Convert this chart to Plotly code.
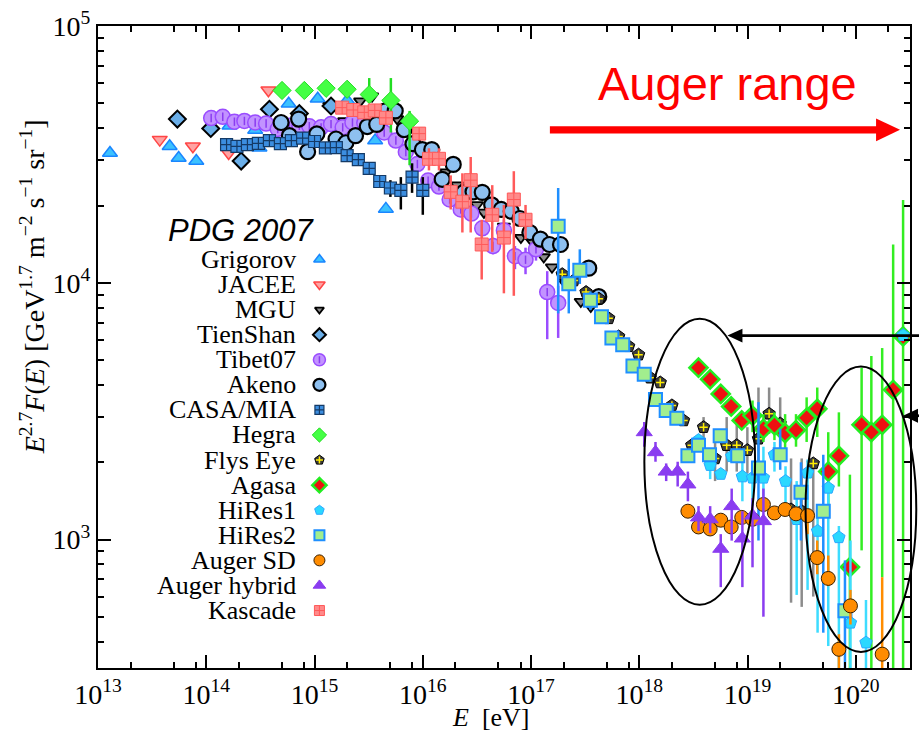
import plotly.graph_objects as go

# ---------------- data (E in eV, flux E^2.7 F(E)) ----------------
grigorov_E = [1.29e13, 4.59e13, 5.56e13, 8.09e13, 1.64e14, 2.83e14, 3.10e14, 5.77e14, 1.07e15, 2.00e15, 3.63e15, 4.56e15]
grigorov_F = [3.20e4, 3.40e4, 3.06e4, 2.98e4, 4.09e4, 3.94e4, 3.36e4, 4.98e4, 5.21e4, 5.13e4, 3.58e4, 1.94e4]

jacee_E = [3.72e13, 7.52e13, 1.61e14, 3.75e14]
jacee_F = [3.61e4, 3.40e4, 3.20e4, 5.62e4]

mgu_E = [1.37e15, 1.88e15, 2.64e15, 3.40e15, 5.79e15, 1.19e16, 1.64e16, 2.07e16, 3.16e16, 3.67e16,
         5.61e16, 8.05e16, 1.02e17, 1.31e17, 1.56e17, 2.09e17, 2.88e17, 3.56e17]
mgu_F = [4.88e4, 4.27e4, 5.10e4, 5.33e4, 4.35e4, 2.51e4, 2.70e4, 2.40e4, 2.01e4, 1.88e4,
         1.66e4, 1.50e4, 1.45e4, 1.26e4, 1.15e4, 9.92e3, 8.45e3, 8.08e3]

tienshan_E = [5.41e13, 1.10e14, 2.10e14, 3.83e14, 7.24e14, 1.42e15]
tienshan_F = [4.34e4, 3.99e4, 2.98e4, 4.74e4, 4.56e4, 4.88e4]

tibet_E = [1.11e14, 1.42e14, 1.82e14, 2.25e14, 2.83e14, 3.57e14, 4.57e14, 5.86e14, 7.24e14, 8.95e14,
           1.15e15, 1.42e15, 1.82e15, 2.24e15, 2.88e15, 4.40e15, 5.64e15, 6.97e15, 8.91e15, 1.12e16,
           1.41e16, 1.77e16, 2.24e16, 2.81e16, 3.54e16, 4.45e16, 5.61e16, 7.10e16, 8.89e16, 1.11e17,
           1.41e17, 1.78e17]
tibet_F = [4.38e4, 4.43e4, 4.24e4, 4.27e4, 4.21e4, 4.17e4, 3.97e4, 4.09e4, 4.09e4, 4.07e4,
           4.03e4, 4.15e4, 4.03e4, 4.21e4, 4.19e4, 3.85e4, 3.58e4, 3.23e4, 2.90e4, 2.50e4,
           2.37e4, 2.11e4, 1.93e4, 1.86e4, 1.63e4, 1.39e4, 1.60e4, 1.27e4, 1.23e4, 1.35e4,
           9.2e3, 8.35e3]
tibet_up = [0] * 25 + [1.1e3, 1.6e3, 1.2e3, 1.4e3, 1.0e3, 1.9e3, 1.38e3]
tibet_dn = [0] * 25 + [1.0e3, 1.9e3, 1.4e3, 1.5e3, 1.3e3, 3.17e3, 2.25e3]

akeno_E = [4.91e14, 5.86e14, 7.13e14, 8.63e14, 1.05e15, 1.58e15, 1.95e15, 2.39e15, 3.07e15, 3.75e15,
           4.50e15, 5.56e15, 6.73e15, 8.11e15, 9.91e15, 1.21e16, 1.51e16, 1.91e16, 2.39e16, 2.91e16,
           3.54e16, 4.33e16, 5.30e16, 6.56e16, 7.89e16, 9.75e16, 1.22e17, 1.48e17, 1.87e17, 3.41e17,
           4.22e17]
akeno_F = [4.21e4, 3.74e4, 4.34e4, 3.24e4, 3.80e4, 3.63e4, 3.51e4, 3.74e4, 4.06e4, 4.14e4,
           4.67e4, 4.67e4, 3.95e4, 3.48e4, 3.30e4, 3.30e4, 2.53e4, 2.89e4, 2.25e4, 2.26e4,
           2.25e4, 2.01e4, 1.93e4, 1.90e4, 1.78e4, 1.57e4, 1.48e4, 1.41e4, 1.41e4, 1.14e4,
           8.83e3]

casa_E = [1.54e14, 1.92e14, 2.40e14, 3.03e14, 3.83e14, 4.84e14, 6.11e14, 7.76e14, 1.00e15, 1.26e15,
          1.59e15, 2.00e15, 2.54e15, 3.20e15, 4.00e15, 5.02e15, 6.27e15, 7.96e15, 1.00e16]
casa_F = [3.45e4, 3.40e4, 3.45e4, 3.49e4, 3.58e4, 3.48e4, 3.58e4, 3.66e4, 3.55e4, 3.35e4,
          3.36e4, 3.13e4, 3.02e4, 2.79e4, 2.48e4, 2.34e4, 2.29e4, 2.58e4, 2.29e4]
casa_up = [0] * 15 + [1.7e3, 2.9e3, 3.4e3, 2.9e3]
casa_dn = [0] * 15 + [1.8e3, 3.6e3, 3.4e3, 4.5e3]

hegra_E = [5.01e14, 8.05e14, 1.28e15, 2.00e15, 3.20e15, 5.07e15, 7.55e15]
hegra_F = [5.61e4, 5.61e4, 5.72e4, 5.67e4, 5.41e4, 5.13e4, 4.26e4]
hegra_up = [0, 0, 4.0e3, 2.8e3, 8.6e3, 1.14e4, 4.1e3]
hegra_dn = [0, 0, 3.0e3, 2.6e3, 3.9e3, 1.28e4, 1.39e4]

flys_E = [1.94e17, 2.48e17, 3.22e17, 4.23e17, 5.21e17, 6.44e17, 7.96e17, 9.84e17, 1.26e18, 1.56e18,
          2.00e18, 2.56e18, 3.05e18, 3.92e18, 5.01e18, 6.41e18, 7.94e18, 9.95e18, 1.26e19, 1.58e19,
          2.00e19, 2.52e19, 3.16e19, 4.04e19]
flys_F = [1.08e4, 1.02e4, 9.20e3, 8.67e3, 7.27e3, 6.18e3, 5.66e3, 5.25e3, 4.27e3, 4.09e3,
          3.33e3, 2.91e3, 2.33e3, 2.74e3, 2.07e3, 2.33e3, 2.33e3, 2.23e3, 2.47e3, 3.09e3,
          2.83e3, 1.31e3, 1.29e3, 1.98e3]
flys_up = [0] * 13 + [260, 550, 670, 540, 510, 1440, 820, 750, 760, 780, 90]
flys_dn = [0] * 13 + [500, 380, 490, 490, 420, 460, 510, 730, 742, 743, 1380]

agasa_E = [3.52e18, 4.51e18, 5.65e18, 7.05e18, 8.83e18, 1.11e19, 1.40e19, 1.77e19, 2.22e19, 2.80e19,
           3.51e19, 4.40e19, 5.56e19, 6.97e19, 8.81e19, 1.13e20, 1.39e20, 1.75e20, 2.21e20, 2.73e20]
agasa_F = [4.67e3, 4.21e3, 3.69e3, 3.30e3, 2.91e3, 3.04e3, 2.70e3, 2.79e3, 2.60e3, 2.67e3,
           2.98e3, 3.23e3, 1.84e3, 2.12e3, 782, 2.80e3, 2.62e3, 2.80e3, 3.83e3, 6.18e3]
agasa_up = [0, 0, 0, 0, 220, 440, 380, 340, 480, 410, 600, 680, 780, 1010, 1008, 1870, 2570, 2770, 10270, 14820]
agasa_dn = [0, 0, 0, 0, 240, 420, 300, 350, 360, 370, 580, 720, 600, 510, 532, 1892, 2370, 2086, 3580, 5930]

hires1_E = [3.52e18, 4.51e18, 5.65e18, 7.13e18, 8.95e18, 1.11e19, 1.40e19, 1.77e19, 2.24e19, 2.84e19,
            3.58e19, 4.43e19, 5.56e19, 6.97e19, 8.91e19, 1.24e20, 2.73e20]
hires1_F = [2.44e3, 1.95e3, 1.80e3, 2.11e3, 1.76e3, 1.74e3, 1.74e3, 2.14e3, 1.69e3, 1.20e3,
            1.82e3, 1.08e3, 1.59e3, 1.02e3, 474, 397, 6.25e3]
hires1_up = [0, 250, 0, 0, 340, 270, 560, 260, 240, 490, 230, 270, 60, 110, 518, 185, 0]
hires1_dn = [0, 230, 0, 0, 350, 390, 390, 300, 400, 591, 1183, 646, 1205, 770, 224, 147, 0]

hires2_E = [1.78e17, 2.23e17, 2.82e17, 3.53e17, 4.47e17, 5.58e17, 7.02e17, 8.73e17, 1.11e18, 1.41e18,
            1.77e18, 2.22e18, 2.81e18, 3.52e18, 4.45e18, 5.58e18, 8.11e18, 1.26e19, 2.00e19, 3.11e19,
            5.00e19, 7.93e19]
hires2_F = [1.66e4, 9.91e3, 1.12e4, 8.55e3, 7.38e3, 6.09e3, 5.74e3, 4.74e3, 4.40e3, 3.51e3,
            3.18e3, 2.97e3, 2.12e3, 2.33e3, 2.14e3, 2.54e3, 2.12e3, 1.90e3, 2.14e3, 1.53e3,
            1.29e3, 528]
hires2_up = [6.8e3, 2.49e3, 2.3e3, 700] + [0] * 13 + [1530, 560, 470, 850, 302]
hires2_dn = [9.0e3, 2.31e3, 1.3e3, 700] + [0] * 13 + [908, 270, 538, 856, 278]

augersd_E = [2.81e18, 3.52e18, 4.51e18, 5.65e18, 7.05e18, 8.83e18, 1.11e19, 1.40e19, 1.77e19, 2.22e19,
             2.80e19, 3.58e19, 4.40e19, 5.56e19, 6.97e19, 8.91e19, 1.75e20]
augersd_F = [1.29e3, 1.12e3, 1.10e3, 1.19e3, 1.12e3, 1.22e3, 1.20e3, 1.37e3, 1.27e3, 1.31e3,
             1.26e3, 1.24e3, 851, 706, 374, 552, 358]
augersd_up = [0] * 12 + [141, 161, 54, 85, 356]
augersd_dn = [0] * 11 + [190, 118, 47, 124, 85, 108]

augerhyb_E = [1.11e18, 1.41e18, 1.77e18, 2.26e18, 2.81e18, 3.52e18, 4.51e18, 5.65e18, 7.13e18, 8.95e18,
              1.11e19, 1.40e19]
augerhyb_F = [2.62e3, 2.19e3, 1.84e3, 1.84e3, 1.64e3, 1.22e3, 1.20e3, 921, 1.35e3, 1.01e3, 1.24e3, 1.18e3]
augerhyb_up = [250, 210, 140, 170, 200, 130, 150, 129, 230, 280, 210, 400]
augerhyb_dn = [320, 180, 150, 230, 230, 140, 140, 268, 359, 357, 460, 679]

kascade_E = [1.80e15, 2.28e15, 2.88e15, 3.60e15, 4.56e15, 9.25e15, 1.14e16, 1.41e16, 1.81e16, 2.32e16,
             2.77e16, 3.50e16, 4.38e16, 5.61e16, 6.93e16, 8.89e16]
kascade_F = [4.81e4, 4.71e4, 4.61e4, 4.69e4, 4.39e4, 3.81e4, 3.04e4, 3.04e4, 2.26e4, 2.07e4,
             2.51e4, 1.41e4, 1.84e4, 1.50e4, 2.11e4, 1.76e4]
kascade_up = [0, 0, 0, 0, 0, 0, 3.0e3, 3.0e3, 3.6e3, 6.0e3, 5.8e3, 3.5e3, 5.6e3, 5.1e3, 6.1e3, 2.5e3]
kascade_dn = [0, 0, 0, 0, 0, 0, 3.0e3, 3.0e3, 3.3e3, 5.0e3, 9.4e3, 3.8e3, 5.2e3, 5.9e3, 1.22e4, 2.8e3]

legend_names = ["Grigorov", "JACEE", "MGU", "TienShan", "Tibet07", "Akeno", "CASA/MIA", "Hegra",
                "Flys Eye", "Agasa", "HiRes1", "HiRes2", "Auger SD", "Auger hybrid", "Kascade"]

x_tick_vals = [1e13, 1e14, 1e15, 1e16, 1e17, 1e18, 1e19, 1e20]
x_tick_text = ["10<sup>13</sup>", "10<sup>14</sup>", "10<sup>15</sup>", "10<sup>16</sup>",
               "10<sup>17</sup>", "10<sup>18</sup>", "10<sup>19</sup>", "10<sup>20</sup>"]
y_tick_vals = [1e3, 1e4, 1e5]
y_tick_text = ["10<sup>3</sup>", "10<sup>4</sup>", "10<sup>5</sup>"]
x_minor_vals = [float(m) * 10.0 ** k for k in range(13, 21) for m in (2, 5, 8)]
y_minor_vals = [float(m) * 10.0 ** k for k in range(2, 5) for m in range(2, 10)]

# ---------------- layout geometry ----------------
W, H = 919, 736
ML, MR, MT, MB = 98, 7, 19, 68
PW, PH = W - ML - MR, H - MT - MB


def px(x):
    return (x - ML) / PW


def py(y):
    return (H - MB - y) / PH


SERIF = "Liberation Serif, Times New Roman, serif"
SANS = "Liberation Sans, Arial, sans-serif"

# style per series: symbol, size, fill, edge, edge width, error colour
styles = {
    "Grigorov": ("triangle-up", 13, "#3cc2ff", "#1a86ff", 1.5, None),
    "JACEE": ("triangle-down", 13, "#ffa3a3", "#ff4545", 1.5, None),
    "MGU": ("triangle-down", 11, "#8c8c8c", "#000000", 1.8, None),
    "TienShan": ("diamond", 13, "#6aaee8", "#000000", 2.0, None),
    "Tibet07": ("circle", 15, "#c293ff", "#9a4cff", 1.5, "#9a4cff"),
    "Akeno": ("circle", 15, "#8ec0f0", "#000000", 2.2, None),
    "CASA/MIA": ("square-cross", 12, "#3c8ee0", "#143a66", 1.2, "#000000"),
    "Hegra": ("diamond", 14, "#44ff44", "#22dd22", 1.0, "#22dd22"),
    "Flys Eye": ("pentagon", 13, "#3c3c3c", "#000000", 1.0, "#8c8c8c"),
    "Agasa": ("diamond", 14, "#ee1111", "#22ee22", 2.5, "#33ee22"),
    "HiRes1": ("pentagon", 13, "#2ad8ff", "#2aa8ff", 1.0, "#3ddcff"),
    "HiRes2": ("square", 13, "#a2ee8e", "#1f8fff", 2.0, "#1f8fff"),
    "Auger SD": ("circle", 14, "#ff8c00", "#3a2000", 1.0, "#ff8c00"),
    "Auger hybrid": ("triangle-up", 14, "#8a3cf0", "#8a3cf0", 1.0, "#8a3cf0"),
    "Kascade": ("square-cross", 13, "#ff8a8a", "#ff5a5a", 1.0, "#ff5a5a"),
}

series = [
    ("Grigorov", grigorov_E, grigorov_F, None, None),
    ("JACEE", jacee_E, jacee_F, None, None),
    ("MGU", mgu_E, mgu_F, None, None),
    ("TienShan", tienshan_E, tienshan_F, None, None),
    ("Tibet07", tibet_E, tibet_F, tibet_up, tibet_dn),
    ("Akeno", akeno_E, akeno_F, None, None),
    ("CASA/MIA", casa_E, casa_F, casa_up, casa_dn),
    ("Hegra", hegra_E, hegra_F, hegra_up, hegra_dn),
    ("Flys Eye", flys_E, flys_F, flys_up, flys_dn),
    ("Agasa", agasa_E, agasa_F, agasa_up, agasa_dn),
    ("HiRes1", hires1_E, hires1_F, hires1_up, hires1_dn),
    ("HiRes2", hires2_E, hires2_F, hires2_up, hires2_dn),
    ("Auger SD", augersd_E, augersd_F, augersd_up, augersd_dn),
    ("Auger hybrid", augerhyb_E, augerhyb_F, augerhyb_up, augerhyb_dn),
    ("Kascade", kascade_E, kascade_F, kascade_up, kascade_dn),
]

fig = go.Figure()

for name, E, F, up, dn in series:
    sym, size, fill, edge, lw, ecol = styles[name]
    err = None
    if up is not None:
        err = dict(type="data", symmetric=False, array=up, arrayminus=dn,
                   color=ecol, thickness=2.5, width=0)
    fig.add_trace(go.Scatter(
        x=E, y=F, mode="markers", name=name, showlegend=False,
        marker=dict(symbol=sym, size=size, color=fill, line=dict(color=edge, width=lw)),
        error_y=err, cliponaxis=True))
    if name == "Tibet07":
        fig.add_trace(go.Scatter(
            x=E, y=F, mode="markers", showlegend=False, hoverinfo="skip",
            marker=dict(symbol="line-ns", size=6, color="#8a3cf0",
                        line=dict(color="#8a3cf0", width=1.5))))
    if name == "Flys Eye":
        fig.add_trace(go.Scatter(
            x=E, y=F, mode="markers", showlegend=False, hoverinfo="skip",
            marker=dict(symbol="cross-thin", size=6, color="#ffee00",
                        line=dict(color="#ffee00", width=1.5))))

# ---------------- custom legend (text left, symbol right) ----------------
row0, rowstep = 255, 25.35
leg_y = [py(row0 + i * rowstep) for i in range(len(legend_names))]
for i, name in enumerate(legend_names):
    sym, size, fill, edge, lw, ecol = styles[name]
    fig.add_trace(go.Scatter(
        x=[0.2727], y=[leg_y[i]], xaxis="x2", yaxis="y2", mode="markers", showlegend=False,
        hoverinfo="skip",
        marker=dict(symbol=sym, size=size - 3, color=fill, line=dict(color=edge, width=lw))))
    if name == "Tibet07":
        fig.add_trace(go.Scatter(
            x=[0.2727], y=[leg_y[i]], xaxis="x2", yaxis="y2", mode="markers", showlegend=False,
            hoverinfo="skip",
            marker=dict(symbol="line-ns", size=5, color="#8a3cf0", line=dict(color="#8a3cf0", width=1.5))))
    if name == "Flys Eye":
        fig.add_trace(go.Scatter(
            x=[0.2727], y=[leg_y[i]], xaxis="x2", yaxis="y2", mode="markers", showlegend=False,
            hoverinfo="skip",
            marker=dict(symbol="cross-thin", size=5, color="#ffee00", line=dict(color="#ffee00", width=1.5))))

annotations = []
for i, name in enumerate(legend_names):
    annotations.append(dict(
        text=name, x=px(298), y=leg_y[i], xref="paper", yref="paper",
        xanchor="right", yanchor="middle", showarrow=False,
        font=dict(family=SERIF, size=26, color="black")))

annotations.append(dict(
    text="<i>PDG 2007</i>", x=px(242), y=py(226), xref="paper", yref="paper",
    xanchor="center", yanchor="middle", showarrow=False,
    font=dict(family=SANS, size=31, color="black")))

annotations.append(dict(
    text="Auger range", x=px(729), y=py(77), xref="paper", yref="paper",
    xanchor="center", yanchor="middle", showarrow=False,
    font=dict(family=SANS, size=47, color="#ff0000")))

annotations.append(dict(
    text="<i>E</i><sup>2.7</sup><i>F</i>(<i>E</i>) [GeV<sup>1.7</sup> m<sup>\u22122</sup> s<sup>\u22121</sup> sr<sup>\u22121</sup>]",
    x=px(32), y=py(283), xref="paper", yref="paper", textangle=-90,
    xanchor="center", yanchor="middle", showarrow=False,
    font=dict(family=SERIF, size=28, color="black")))

annotations.append(dict(
    text="<i>E</i>  [eV]", x=px(492), y=py(718), xref="paper", yref="paper",
    xanchor="center", yanchor="middle", showarrow=False,
    font=dict(family=SERIF, size=26, color="black")))

shapes = [
    # red Auger-range arrow
    dict(type="line", xref="paper", yref="paper", x0=px(551), x1=px(882), y0=py(124), y1=py(124),
         line=dict(color="#ff0000", width=7.3)),
    dict(type="path", xref="paper", yref="paper",
         path=f"M {px(878)} {py(112.5)} L {px(902)} {py(124)} L {px(878)} {py(135.5)} Z",
         fillcolor="#ff0000", line=dict(width=0)),
    # black arrows
    dict(type="line", xref="paper", yref="paper", x0=px(742), x1=px(925), y0=py(332), y1=py(332),
         line=dict(color="black", width=2.7)),
    dict(type="path", xref="paper", yref="paper",
         path=f"M {px(744)} {py(325)} L {px(729)} {py(332)} L {px(744)} {py(339)} Z",
         fillcolor="black", line=dict(width=0)),
    dict(type="line", xref="paper", yref="paper", x0=px(917), x1=px(930), y0=py(413), y1=py(413),
         line=dict(color="black", width=2.7)),
    dict(type="path", xref="paper", yref="paper",
         path=f"M {px(920)} {py(406)} L {px(905)} {py(413)} L {px(920)} {py(420)} Z",
         fillcolor="black", line=dict(width=0)),
    # ellipses
    dict(type="circle", xref="paper", yref="paper", x0=px(645.7), x1=px(756.7), y0=py(604), y1=py(315),
         line=dict(color="black", width=2)),
    dict(type="circle", xref="paper", yref="paper", x0=px(807.3), x1=px(918.3), y0=py(651.7), y1=py(363.3),
         line=dict(color="black", width=2)),
]

axis_common = dict(
    showline=True, linecolor="black", linewidth=2, mirror="ticks",
    ticks="inside", ticklen=13, tickwidth=2, tickcolor="black",
    showgrid=False, zeroline=False, tickmode="array",
    tickfont=dict(family=SERIF, size=28, color="black"),
)

fig.update_layout(
    width=W, height=H, autosize=False,
    margin=dict(l=ML, r=MR, t=MT, b=MB, pad=0),
    paper_bgcolor="white", plot_bgcolor="white",
    showlegend=False,
    xaxis=dict(type="log", range=[13, 20.5], tickvals=x_tick_vals, ticktext=x_tick_text,
               minor=dict(tickmode="array", tickvals=x_minor_vals, ticks="inside", ticklen=6,
                          tickwidth=1.5, tickcolor="black", showgrid=False),
               **axis_common),
    yaxis=dict(type="log", range=[2.5, 5], tickvals=y_tick_vals, ticktext=y_tick_text,
               ticklabelstandoff=0,
               minor=dict(tickmode="array", tickvals=y_minor_vals, ticks="inside", ticklen=6,
                          tickwidth=1.5, tickcolor="black", showgrid=False),
               **axis_common),
    xaxis2=dict(overlaying="x", range=[0, 1], visible=False, fixedrange=True),
    yaxis2=dict(overlaying="y", range=[0, 1], visible=False, fixedrange=True),
    annotations=annotations,
    shapes=shapes,
)

fig.write_html("out.html")
